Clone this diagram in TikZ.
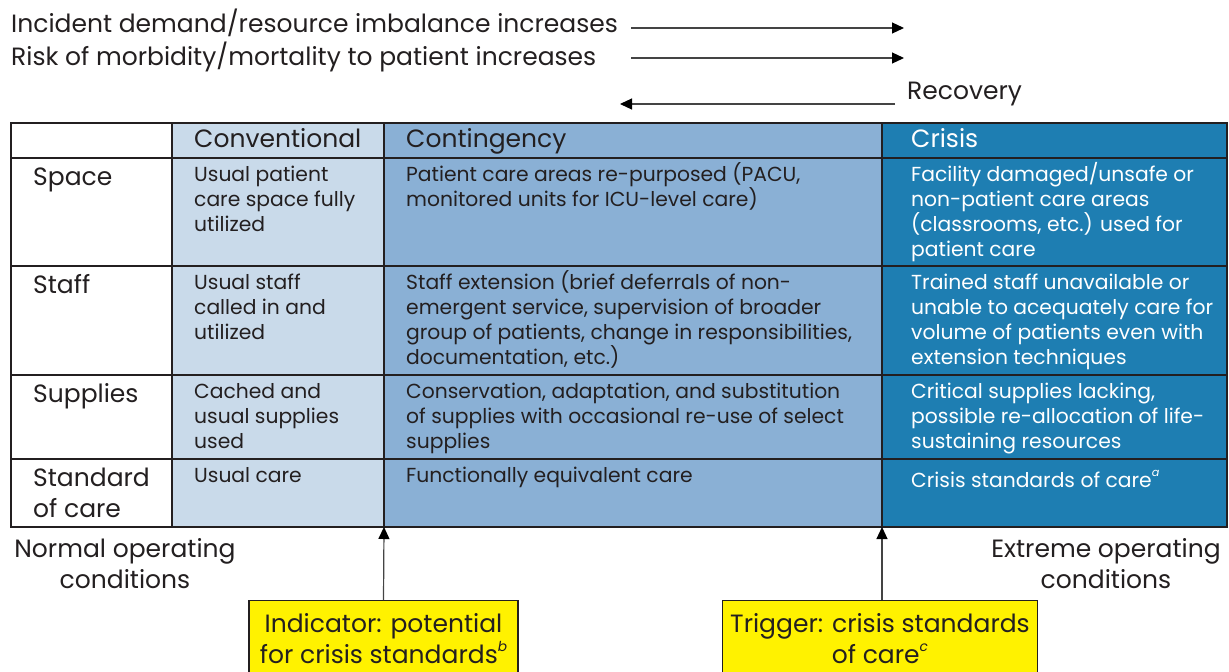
\documentclass[tikz,border=0pt]{standalone}
\usepackage{fontspec}
\setmainfont{Poppins}
\usetikzlibrary{arrows.meta}
\definecolor{txt}{HTML}{231F20}
\definecolor{conv}{HTML}{C9DAEA}
\definecolor{cont}{HTML}{8AB0D5}
\definecolor{cris}{HTML}{1E7EB2}
\definecolor{yel}{HTML}{FFF200}
\definecolor{arrgray}{HTML}{444444}
\newcommand{\bigf}{\fontsize{25}{31}\selectfont}
\newcommand{\smf}{\fontsize{20.3}{25}\selectfont}
\newcommand{\ctext}[1]{\parbox[t]{460pt}{\raggedright\smf #1}}
\newcommand{\btext}[1]{\parbox[t]{700pt}{\raggedright\bigf #1}}
\newcommand{\mtext}[1]{\parbox[t]{320pt}{\centering\bigf #1}}
\newcommand{\sups}[1]{\raisebox{0.5em}{\fontsize{0.55em}{0.6em}\selectfont\itshape #1}}
\tikzset{
  lbl/.style={anchor=base west, inner sep=0pt, text=txt},
  clbl/.style={anchor=base, inner sep=0pt, text=txt},
  grid/.style={draw=txt, line width=1.5pt},
  arr/.style={draw=arrgray, line width=1.2pt, -{Triangle[length=12pt,width=11pt,color=black]}},
  ybox/.style={draw=txt, line width=1.2pt, fill=yel, text=txt, font=\bigf, align=center,
    anchor=north, minimum height=76pt, inner sep=0pt}
}
\begin{document}
\begin{tikzpicture}[x=1pt,y=-1pt]
\useasboundingbox (0,0) rectangle (1229,672);
\clip (0,0) rectangle (1229,672);
% top texts and arrows
\node[lbl] (t1) at (11,32) {\btext{Incident demand/resource imbalance increases}};
\node[lbl] (t2) at (11,65) {\btext{Risk of morbidity/mortality to patient increases}};
\node[lbl] (rec) at (907,99) {\btext{Recovery}};
\coordinate (a1s) at (631,28); \coordinate (a1e) at (904,28);
\coordinate (a2s) at (631,58); \coordinate (a2e) at (904,58);
\coordinate (a3s) at (895,104); \coordinate (a3e) at (620,104);
\draw[arr] (a1s) -- (a1e);
\draw[arr] (a2s) -- (a2e);
\draw[arr] (a3s) -- (a3e);
% table
\fill[conv] (172,123) rectangle (384,527);
\fill[cont] (384,123) rectangle (882,527);
\fill[cris] (882,123) rectangle (1227,527);
\foreach \y in {158,266,375,459} \draw[grid] (11,\y) -- (1227,\y);
\foreach \x in {172,384,882} \draw[grid] (\x,123) -- (\x,527);
\draw[grid] (11,123) rectangle (1227,527);
% headers
\node[lbl] (hconv) at (194,147) {\btext{Conventional}};
\node[lbl] (hcont) at (406,147) {\btext{Contingency}};
\node[lbl, text=white] (hcris) at (911,147) {\btext{Crisis}};
% row labels
\node[lbl] (rspace) at (33,185) {\btext{Space}};
\node[lbl] (rstaff) at (33,293) {\btext{Staff}};
\node[lbl] (rsupp) at (33,402) {\btext{Supplies}};
\node[lbl] (rstd) at (33,486) {\btext{Standard\\of care}};
% space row
\node[lbl] (c11) at (194,181) {\ctext{Usual patient\\care space fully\\utilized}};
\node[lbl] (c12) at (406,181) {\ctext{Patient care areas re-purposed (PACU,\\monitored units for ICU-level care)}};
\node[lbl, text=white] (c13) at (911,181) {\ctext{Facility damaged/unsafe or\\non-patient care areas\\(classrooms, etc.) used for\\patient care}};
% staff row
\node[lbl] (c21) at (194,289) {\ctext{Usual staff\\called in and\\utilized}};
\node[lbl] (c22) at (406,289) {\ctext{Staff extension (brief deferrals of non-\\emergent service, supervision of broader\\group of patients, change in responsibilities,\\documentation, etc.)}};
\node[lbl, text=white] (c23) at (911,289) {\ctext{Trained staff unavailable or\\unable to acequately care for\\volume of patients even with\\extension techniques}};
% supplies row
\node[lbl] (c31) at (194,398) {\ctext{Cached and\\usual supplies\\used}};
\node[lbl] (c32) at (406,398) {\ctext{Conservation, adaptation, and substitution\\of supplies with occasional re-use of select\\supplies}};
\node[lbl, text=white] (c33) at (911,398) {\ctext{Critical supplies lacking,\\possible re-allocation of life-\\sustaining resources}};
% standard row
\node[lbl] (c41) at (194,482) {\ctext{Usual care}};
\node[lbl] (c42) at (406,482) {\ctext{Functionally equivalent care}};
\node[lbl, text=white] (c43) at (911,487) {\ctext{Crisis standards of care\sups{a}}};
% bottom labels
\node[clbl] (normal) at (125,557) {\mtext{Normal operating\\conditions}};
\node[clbl] (extreme) at (1106,557) {\mtext{Extreme operating\\conditions}};
% yellow boxes
\coordinate (b1) at (384,527);
\coordinate (b2) at (882,527);
\node[ybox, minimum width=269pt] (ind) at (383.5,600) {Indicator: potential\\for crisis standards\sups{b}};
\node[ybox, minimum width=315pt] (trig) at (880,600) {Trigger: crisis standards\\of care\sups{c}};
\draw[arr] (ind.north) -- (b1);
\draw[arr] (b2 |- trig.north) -- (b2);
\end{tikzpicture}
\end{document}
